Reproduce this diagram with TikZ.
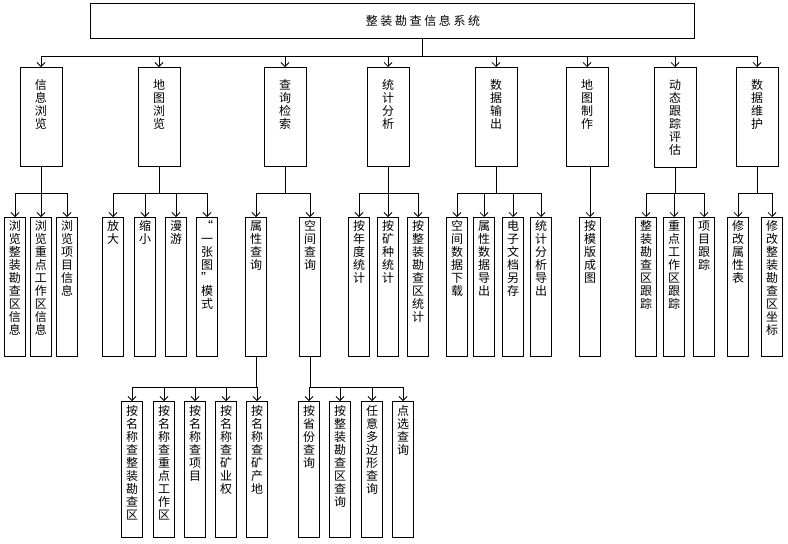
\documentclass[tikz,border=0pt]{standalone}
\usepackage{fontspec}
\newfontfamily\cjk{Noto Sans CJK SC}
\newfontfamily\cjkwide[LetterSpace=22]{Noto Sans CJK SC}
\usepackage{tikz}
\usetikzlibrary{arrows.meta}

% one column of characters, pushed to the top of the box
\newcommand{\vcol}[3]{\parbox[t][#1][t]{14pt}{\centering\vspace*{#2}#3}}

\begin{document}
\begin{tikzpicture}[
  x=1pt, y=-1pt,
  % boxes of the three levels
  sysbox/.style={draw=black,line width=0.9pt,minimum width=604pt,minimum height=35pt,inner sep=0pt},
  headbox/.style={draw=black,line width=0.9pt,minimum width=42pt,inner sep=0pt,anchor=north,font=\cjk\fontsize{12}{13}\selectfont},
  leafbox/.style={draw=black,line width=0.9pt,minimum width=21pt,inner sep=0pt,anchor=north,font=\cjk\fontsize{12}{13}\selectfont},
  link/.style={draw=black,line width=0.75pt},
  arr/.style={link,-{Straight Barb[length=4pt,width=8pt]}}
]
\useasboundingbox (0,0) rectangle (788,544);

\node[sysbox] (sys) at (392,20.5) {};
\node[font=\cjkwide\fontsize{12}{14}\selectfont] (title) at (423,20.5) {整装勘查信息系统};

\coordinate (hub)  at (422,56);   % main bus
\coordinate (rowb) at (0,193);    % bus above level 3
\coordinate (rowc) at (0,387);    % bus above level 4

% level 2
\node[headbox] (browse)  at (41,67)  {\vcol{99pt}{12pt}{信\\息\\浏\\览}};
\node[headbox] (mapview) at (159,67) {\vcol{99pt}{12pt}{地\\图\\浏\\览}};
\node[headbox] (query)   at (285,67) {\vcol{99pt}{12pt}{查\\询\\检\\索}};
\node[headbox] (stat)    at (388,67) {\vcol{99pt}{12pt}{统\\计\\分\\析}};
\node[headbox] (output)  at (496,67) {\vcol{99pt}{12pt}{数\\据\\输\\出}};
\node[headbox] (mapmake) at (587,67) {\vcol{99pt}{12pt}{地\\图\\制\\作}};
\node[headbox] (track)   at (675,67) {\vcol{100pt}{12pt}{动\\态\\跟\\踪\\评\\估}};
\node[headbox] (maint)   at (757,67) {\vcol{99pt}{12pt}{数\\据\\维\\护}};

% level 3
\node[leafbox] (bz) at (15,217) {\vcol{139pt}{3pt}{浏\\览\\整\\装\\勘\\查\\区\\信\\息}};
\node[leafbox] (bk) at (41,217) {\vcol{139pt}{3pt}{浏\\览\\重\\点\\工\\作\\区\\信\\息}};
\node[leafbox] (bx) at (67,217) {\vcol{139pt}{3pt}{浏\\览\\项\\目\\信\\息}};

\node[leafbox] (zoomin)  at (113,217) {\vcol{139pt}{3pt}{放\\大}};
\node[leafbox] (zoomout) at (145,217) {\vcol{139pt}{3pt}{缩\\小}};
\node[leafbox] (pan)     at (176,217) {\vcol{139pt}{3pt}{漫\\游}};
\node[leafbox] (onemap)  at (207,217) {\vcol{139pt}{3pt}{“\\一\\张\\图\\”\\模\\式}};

\node[leafbox] (attr) at (256,217) {\vcol{139pt}{3pt}{属\\性\\查\\询}};
\node[leafbox] (spat) at (310,217) {\vcol{139pt}{3pt}{空\\间\\查\\询}};

\node[leafbox] (byyear) at (359,217) {\vcol{139pt}{3pt}{按\\年\\度\\统\\计}};
\node[leafbox] (bymin)  at (388,217) {\vcol{139pt}{3pt}{按\\矿\\种\\统\\计}};
\node[leafbox] (byarea) at (418,217) {\vcol{139pt}{3pt}{按\\整\\装\\勘\\查\\区\\统\\计}};

\node[leafbox] (dl)      at (457,217) {\vcol{139pt}{3pt}{空\\间\\数\\据\\下\\载}};
\node[leafbox] (attrout) at (484,217) {\vcol{139pt}{3pt}{属\\性\\数\\据\\导\\出}};
\node[leafbox] (docsave) at (513,217) {\vcol{139pt}{3pt}{电\\子\\文\\档\\另\\存}};
\node[leafbox] (statout) at (541,217) {\vcol{139pt}{3pt}{统\\计\\分\\析\\导\\出}};

\node[leafbox] (tmpl) at (590,217) {\vcol{139pt}{3pt}{按\\模\\版\\成\\图}};

\node[leafbox] (trz) at (646,217) {\vcol{139pt}{3pt}{整\\装\\勘\\查\\区\\跟\\踪}};
\node[leafbox] (trk) at (674,217) {\vcol{139pt}{3pt}{重\\点\\工\\作\\区\\跟\\踪}};
\node[leafbox] (trx) at (704,217) {\vcol{139pt}{3pt}{项\\目\\跟\\踪}};

\node[leafbox] (editattr)  at (738,217) {\vcol{139pt}{3pt}{修\\改\\属\\性\\表}};
\node[leafbox] (editcoord) at (772,217) {\vcol{139pt}{3pt}{修\\改\\整\\装\\勘\\查\\区\\坐\\标}};

% level 4
\node[leafbox] (nz) at (132,401) {\vcol{136pt}{4pt}{按\\名\\称\\查\\整\\装\\勘\\查\\区}};
\node[leafbox] (nk) at (164,401) {\vcol{136pt}{4pt}{按\\名\\称\\查\\重\\点\\工\\作\\区}};
\node[leafbox] (nx) at (195,401) {\vcol{136pt}{4pt}{按\\名\\称\\查\\项\\目}};
\node[leafbox] (nq) at (226,401) {\vcol{136pt}{4pt}{按\\名\\称\\查\\矿\\业\\权}};
\node[leafbox] (nd) at (257,401) {\vcol{136pt}{4pt}{按\\名\\称\\查\\矿\\产\\地}};

\node[leafbox] (prov) at (309,401) {\vcol{136pt}{4pt}{按\\省\\份\\查\\询}};
\node[leafbox] (area) at (340,401) {\vcol{136pt}{4pt}{按\\整\\装\\勘\\查\\区\\查\\询}};
\node[leafbox] (poly) at (372,401) {\vcol{136pt}{4pt}{任\\意\\多\\边\\形\\查\\询}};
\node[leafbox] (pick) at (403,401) {\vcol{136pt}{4pt}{点\\选\\查\\询}};

% main bus
\draw[link] (sys.south -| hub) -- (hub);
\draw[link] (browse.north |- hub) -- (maint.north |- hub);
\draw[arr] (browse.north |- hub)  -- (browse.north);
\draw[arr] (mapview.north |- hub) -- (mapview.north);
\draw[arr] (query.north |- hub)   -- (query.north);
\draw[arr] (stat.north |- hub)    -- (stat.north);
\draw[arr] (output.north |- hub)  -- (output.north);
\draw[arr] (mapmake.north |- hub) -- (mapmake.north);
\draw[arr] (track.north |- hub)   -- (track.north);
\draw[arr] (maint.north |- hub)   -- (maint.north);

% 信息浏览
\draw[link] (browse.south) -- (browse.south |- rowb);
\draw[link] (bz.north |- rowb) -- (bx.north |- rowb);
\draw[arr] (bz.north |- rowb) -- (bz.north);
\draw[arr] (bk.north |- rowb) -- (bk.north);
\draw[arr] (bx.north |- rowb) -- (bx.north);

% 地图浏览
\draw[link] (mapview.south) -- (mapview.south |- rowb);
\draw[link] (zoomin.north |- rowb) -- (onemap.north |- rowb);
\draw[arr] (zoomin.north |- rowb)  -- (zoomin.north);
\draw[arr] (zoomout.north |- rowb) -- (zoomout.north);
\draw[arr] (pan.north |- rowb)     -- (pan.north);
\draw[arr] (onemap.north |- rowb)  -- (onemap.north);

% 查询检索
\draw[link] (query.south) -- (query.south |- rowb);
\draw[link] (attr.north |- rowb) -- (spat.north |- rowb);
\draw[arr] (attr.north |- rowb) -- (attr.north);
\draw[arr] (spat.north |- rowb) -- (spat.north);

% 统计分析
\draw[link] (stat.south) -- (stat.south |- rowb);
\draw[link] (byyear.north |- rowb) -- (byarea.north |- rowb);
\draw[arr] (byyear.north |- rowb) -- (byyear.north);
\draw[arr] (bymin.north |- rowb)  -- (bymin.north);
\draw[arr] (byarea.north |- rowb) -- (byarea.north);

% 数据输出
\draw[link] (output.south) -- (output.south |- rowb);
\draw[link] (dl.north |- rowb) -- (statout.north |- rowb);
\draw[arr] (dl.north |- rowb)      -- (dl.north);
\draw[arr] (attrout.north |- rowb) -- (attrout.north);
\draw[arr] (docsave.north |- rowb) -- (docsave.north);
\draw[arr] (statout.north |- rowb) -- (statout.north);

% 地图制作
\draw[arr] (mapmake.south -| tmpl) -- (tmpl.north);

% 动态跟踪评估
\draw[link] (track.south) -- (track.south |- rowb);
\draw[link] (trz.north |- rowb) -- (trx.north |- rowb);
\draw[arr] (trz.north |- rowb) -- (trz.north);
\draw[arr] (trk.north |- rowb) -- (trk.north);
\draw[arr] (trx.north |- rowb) -- (trx.north);

% 数据维护
\draw[link] (maint.south) -- (maint.south |- rowb);
\draw[link] (editattr.north |- rowb) -- (editcoord.north |- rowb);
\draw[arr] (editattr.north |- rowb)  -- (editattr.north);
\draw[arr] (editcoord.north |- rowb) -- (editcoord.north);

% 属性查询
\draw[link] (attr.south) -- (attr.south |- rowc);
\draw[link] (nz.north |- rowc) -- (nd.north |- rowc);
\draw[arr] (nz.north |- rowc) -- (nz.north);
\draw[arr] (nk.north |- rowc) -- (nk.north);
\draw[arr] (nx.north |- rowc) -- (nx.north);
\draw[arr] (nq.north |- rowc) -- (nq.north);
\draw[arr] (nd.north |- rowc) -- (nd.north);

% 空间查询
\draw[link] (spat.south) -- (spat.south |- rowc);
\draw[link] (prov.north |- rowc) -- (pick.north |- rowc);
\draw[arr] (prov.north |- rowc) -- (prov.north);
\draw[arr] (area.north |- rowc) -- (area.north);
\draw[arr] (poly.north |- rowc) -- (poly.north);
\draw[arr] (pick.north |- rowc) -- (pick.north);

\end{tikzpicture}
\end{document}
